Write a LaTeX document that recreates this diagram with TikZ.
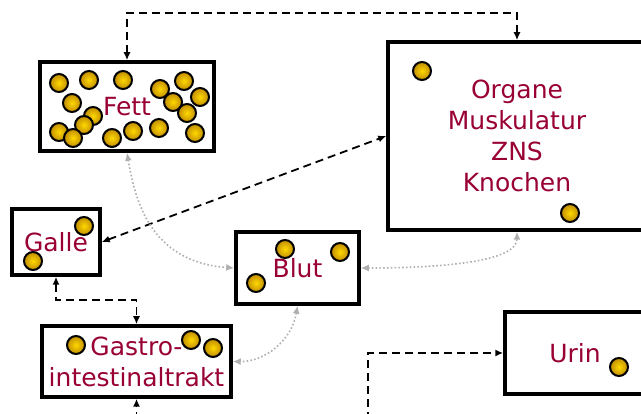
\documentclass[tikz,border=0pt]{standalone}
\usepackage{fontspec}
\setmainfont{DejaVu Sans}
\usetikzlibrary{arrows.meta}
\definecolor{labelred}{RGB}{153,0,51}
\definecolor{ballin}{RGB}{255,216,0}
\definecolor{ballout}{RGB}{192,140,0}
\definecolor{flowgray}{RGB}{175,175,175}
\newcommand\goldball[1]{\shadedraw[goldballstyle] (#1) circle[radius=9pt];}

\begin{document}
\begin{tikzpicture}[x=1pt,y=-1pt,
  box/.style={draw=black, line width=3.5pt, fill=white, inner sep=0pt,
    text=labelred, font=\fontsize{25}{31}\selectfont, align=center},
  goldballstyle/.style={draw=black, line width=2pt, inner color=ballin, outer color=ballout},
  dlink/.style={draw=black, line width=1.8pt, dash pattern=on 8pt off 5pt},
  darrows/.style={arrows={Latex[length=8pt,width=7pt]-Latex[length=8pt,width=7pt]}},
  darrow/.style={arrows={-Latex[length=8pt,width=7pt]}},
  glink/.style={draw=flowgray, line width=1.6pt, dash pattern=on 1.6pt off 2.2pt,
    arrows={Latex[length=8pt,width=7pt]-Latex[length=8pt,width=7pt]}},
]
\useasboundingbox (0,0) rectangle (641,414);

% compartments
\node[box, minimum width=174pt, minimum height=89pt] (fett) at (127,106.5) {Fett};
\node[box, minimum width=258pt, minimum height=188pt] (organe) at (517,136) {Organe\\Muskulatur\\ZNS\\Knochen};
\node[box, minimum width=88pt, minimum height=66pt] (galle) at (56,242) {Galle};
\node[box, minimum width=123pt, minimum height=72pt] (blut) at (297.5,268) {Blut};
\node[box, minimum width=189pt, minimum height=71pt] (gastro) at (136.5,361.5) {Gastro-\\intestinaltrakt};
\node[box, minimum width=140pt, minimum height=82pt] (urin) at (575,353) {Urin};

% substance particles
\foreach \p in {{59,83},{89,80},{123,80},{160,89},{184,81},{200,97},{72,103},
  {173,102},{187,113},{93,116},{84,125},{59,132},{73,138},{112,138},{133,131},
  {159,128},{195,133}} {\goldball{\p}}
\goldball{422,71}
\goldball{570,213}
\goldball{84,226}
\goldball{33,261}
\goldball{285,249}
\goldball{340,252}
\goldball{256,283}
\goldball{76,345}
\goldball{191,340}
\goldball{213,348}
\goldball{619,367}

% helper points for the dashed routes
\coordinate (top) at (0,13);
\coordinate (mid) at (0,300);
\coordinate (gbot) at (137,420);
\coordinate (ubot) at (368,420);

% dashed transport routes
\draw[dlink, darrows] (fett.north) -- (fett.north |- top) -| (organe.north);
\draw[dlink, darrows] (galle.east) -- (organe.west);
\draw[dlink, darrows] (galle.south) -- (galle.south |- mid) -| (gastro.north);
\draw[dlink, darrow] (gastro.south |- gbot) -- (gastro.south);
\draw[dlink, darrow] (ubot) |- (urin.west);

% dotted exchange with the blood
\draw[glink] (fett.south) .. controls (135,200) and (150,262) .. (blut.west);
\draw[glink] (blut.east) .. controls (440,268) and (517,262) .. (organe.south);
\draw[glink] (blut.south) .. controls (292,340) and (265,362) .. (gastro.east);
\end{tikzpicture}
\end{document}
